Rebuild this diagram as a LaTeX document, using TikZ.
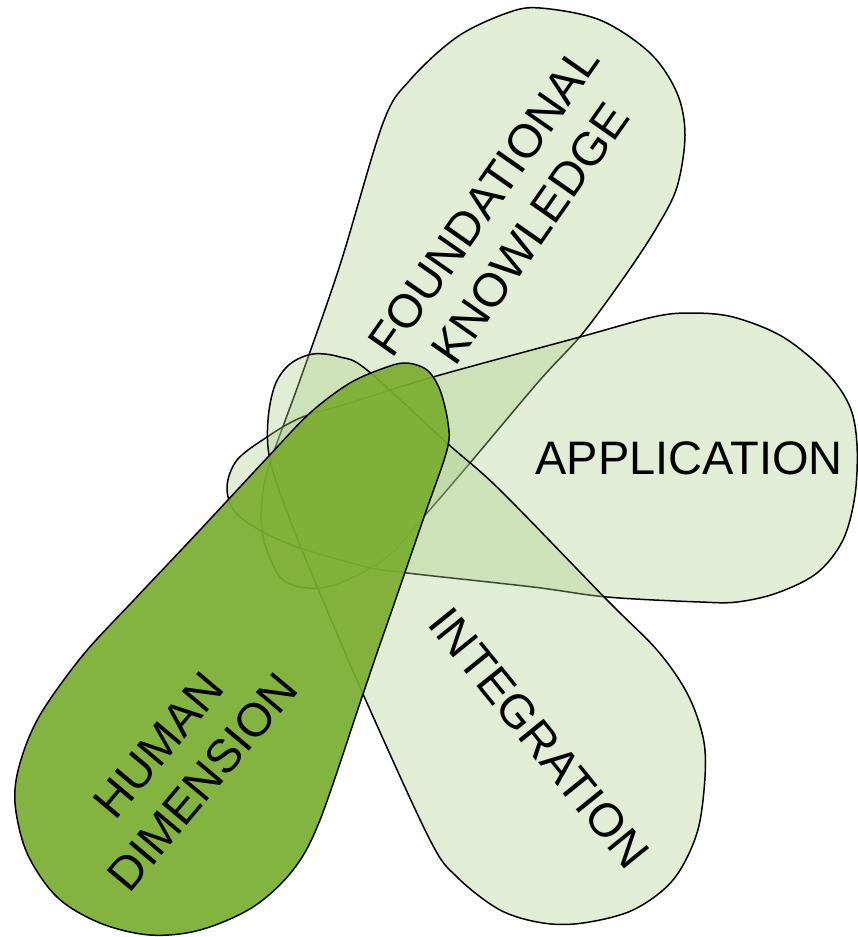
\documentclass[tikz,border=0pt]{standalone}
\usepackage{fontspec}
\setmainfont{Liberation Sans}
\usepackage{xcolor}
\usepackage{tikz}
\definecolor{leaf}{RGB}{170,204,136}
\definecolor{leafdark}{RGB}{122,174,48}
\tikzstyle{petal}=[draw=black,line width=1.5pt,fill=leaf,fill opacity=0.35]
\tikzstyle{darkpetal}+=[petal,fill=leafdark,fill opacity=0.92]
\tikzstyle{petaltext}=[font=\fontsize{47}{57}\selectfont,align=center,text=black]

\begin{document}
\begin{tikzpicture}[x=1pt,y=-1pt]
    \useasboundingbox (0,0) rectangle (857,937);
    % foundational knowledge
    \draw[petal] plot[smooth cycle,tension=0.55] coordinates {
      (383,123) (410,80) (457,37) (507,13) (540,8) (600,20) (650,53) (677,93)
      (685,135) (677,187) (657,227) (627,273) (583,333) (540,380) (470,463)
      (427,513) (387,557) (340,583) (307,588) (280,577) (263,537) (262,500)
      (270,463) (300,380) (340,265)};
    % application
    \draw[petal] plot[smooth cycle,tension=0.55] coordinates {
      (433,377) (580,337) (653,317) (690,313) (733,317) (783,337) (827,373)
      (850,407) (857,445) (855,495) (843,540) (817,573) (777,593) (737,602)
      (700,602) (607,597) (533,587) (407,573) (367,567) (300,548) (263,532)
      (235,512) (227,487) (237,460) (267,437) (300,418) (343,405)};
    % integration
    \draw[petal] plot[smooth cycle,tension=0.55] coordinates {
      (313,354) (340,357) (367,370) (447,443) (500,490) (607,600) (657,650)
      (687,693) (703,737) (705,777) (697,833) (673,880) (633,910) (583,923)
      (543,923) (500,910) (457,877) (430,840) (367,703) (327,610) (290,520)
      (270,460) (268,420) (275,385) (290,364)};
    % human dimension
    \draw[darkpetal] plot[smooth cycle,tension=0.55] coordinates {
      (267,458) (310,413) (350,383) (387,367) (407,363) (427,370) (440,390)
      (448,423) (447,450) (424,517) (392,610) (378,650) (361,700)
      (320,820) (293,870) (253,907) (200,930) (150,935) (100,923) (57,897)
      (27,853) (15,803) (20,763) (40,715) (83,655) (133,601) (167,565)
      (200,530)};
    \node[petaltext,rotate=55] (fk) at (507,217) {FOUNDATIONAL\\KNOWLEDGE};
    \node[petaltext] (app) at (689,458) {APPLICATION};
    \node[petaltext,rotate=-51] (integ) at (539,738) {INTEGRATION};
    \node[petaltext,rotate=50] (human) at (181,764) {HUMAN\\DIMENSION};
  \end{tikzpicture}
\end{document}
